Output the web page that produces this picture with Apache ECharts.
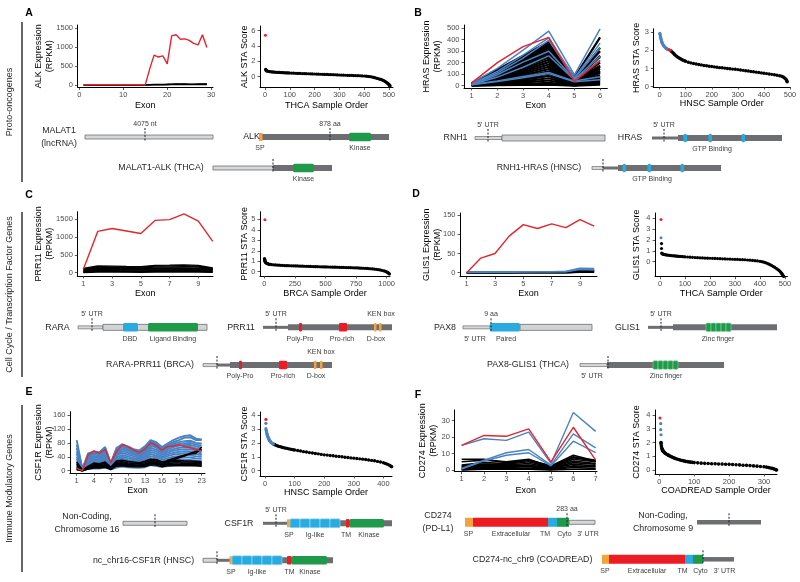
<!DOCTYPE html>
<html><head><meta charset="utf-8">
<script src="https://cdn.jsdelivr.net/npm/echarts@6/dist/echarts.min.js"></script>
<style>html,body{margin:0;padding:0;background:#fff}#c{width:800px;height:582px}</style>
</head><body><div id="c"></div>
<script>
const FONT = '"Liberation Sans", Arial, Helvetica, sans-serif';
const RED = '#e8242b', BLUE = '#4a83c4', BLACK = '#000000';

/* ---------- Panel A : ALK ---------- */
const alkExon = [1,2,3,4,5,6,7,8,9,10,11,12,13,14,15,16,17,18,19,20,21,22,23,24,25,26,27,28,29];
const alkRed = [5,5,5,5,5,5,5,5,5,5,5,5,5,5,5,420,790,740,770,560,1300,1330,1210,1220,1180,1100,1060,1330,990];
const alkBlack = [
 [2,2,2,2,3,3,3,2,3,3,3,3,3,3,4,10,15,18,16,20,25,28,26,27,25,24,26,28,27],
 [1,1,1,1,1,1,1,1,1,1,1,1,1,1,2,6,10,12,10,14,18,20,19,20,18,18,19,20,20],
 [0,0,0,0,0,0,0,0,0,0,0,0,0,0,1,3,5,6,5,7,9,10,9,10,9,9,10,10,10]
];
const alkStaRed = [[2,5.4]];
const alkStaBlue = [];
const alkStaBlack = [[3,0.96],[4,0.88],[5,0.82],[7,0.75],[10,0.71],[15,0.68],[20,0.65],[25,0.635],[30,0.62],[35,0.605],[40,0.59],[45,0.58],[50,0.57],[55,0.56],[60,0.55],[65,0.54],[70,0.53],[75,0.52],[80,0.51],[85,0.505],[90,0.5],[95,0.49],[100,0.48],[108,0.47],[116,0.455],[125,0.44],[133,0.43],[141,0.42],[150,0.41],[158,0.4],[166,0.39],[175,0.38],[183,0.37],[191,0.36],[200,0.35],[208,0.34],[216,0.33],[225,0.32],[233,0.31],[241,0.3],[250,0.29],[258,0.28],[266,0.27],[275,0.26],[283,0.25],[291,0.235],[300,0.22],[308,0.21],[316,0.2],[325,0.19],[333,0.18],[341,0.17],[350,0.16],[358,0.15],[366,0.14],[375,0.13],[383,0.12],[391,0.105],[400,0.09],[408,0.065],[415,0.04],[421,0.02],[427,-0.01],[432,-0.04],[437,-0.08],[442,-0.12],[447,-0.17],[452,-0.22],[457,-0.27],[462,-0.31],[467,-0.36],[472,-0.41],[476,-0.47],[480,-0.53],[483,-0.6],[486,-0.66],[489,-0.73],[492,-0.8],[495,-0.88],[497,-0.94],[499,-1.0],[501,-1.06],[502,-1.1],[503,-1.15],[504,-1.2]];

/* ---------- Panel B : HRAS ---------- */
const hrasExon = [1,2,3,4,5,6];
const hrasRed = [25,200,340,420,38,218];
const hrasBlue = [
 [25,150,310,475,95,495],[15,125,265,415,70,370],[12,110,240,395,62,330],
 [10,95,205,300,55,255],[8,75,160,260,50,220],[10,42,80,115,40,78],[8,36,70,105,35,52]
];
const hrasBlack = [
 [22,140,260,380,70,420],[20,130,245,360,60,300],[19,125,235,345,55,250],[18,118,222,330,50,330],
 [17,110,210,310,48,200],[16,104,198,295,45,260],[15,98,185,280,42,175],[14,90,172,262,40,150],
 [13,84,160,245,36,165],[12,76,145,225,33,130],[11,70,132,205,30,110],[10,62,118,185,27,120],
 [9,55,104,165,24,90],[8,48,90,145,20,80],[7,40,76,125,17,70],[6,33,62,105,14,60],
 [5,26,50,85,10,50],[4,20,38,65,7,40],[3,14,26,45,4,30],[2,8,15,25,2,20],[1,4,7,10,1,10]
];
const hrasStaBlue = [[1,2.95],[2,2.88],[3,2.8],[4,2.73],[5,2.66],[6,2.6],[7,2.54],[8,2.49],[9,2.45],[10,2.41],[12,2.35],[14,2.3],[16,2.26],[18,2.22],[20,2.19],[22,2.16],[24,2.13],[26,2.11],[28,2.09],[30,2.07],[32,2.06],[34,2.05]];
const hrasStaRed = [[37,2.03],[40,2.01]];
const hrasStaBlack = [[44,1.97],[48,1.92],[52,1.86],[56,1.8],[60,1.74],[65,1.68],[70,1.63],[75,1.58],[80,1.54],[85,1.5],[90,1.46],[95,1.43],[100,1.4],[110,1.35],[120,1.31],[130,1.28],[140,1.25],[150,1.22],[160,1.2],[170,1.17],[180,1.15],[190,1.13],[200,1.11],[210,1.09],[220,1.07],[230,1.05],[240,1.04],[250,1.02],[260,1.0],[270,0.99],[280,0.97],[290,0.96],[300,0.94],[310,0.92],[320,0.9],[330,0.88],[340,0.86],[350,0.84],[360,0.82],[370,0.8],[380,0.78],[390,0.76],[400,0.74],[410,0.72],[420,0.7],[430,0.68],[440,0.66],[450,0.63],[460,0.6],[468,0.57],[474,0.53],[479,0.48],[483,0.43],[486,0.37],[488,0.31],[489,0.27]];

/* ---------- Panel C : PRR11 ---------- */
const prrExon = [1,2,3,4,5,6,7,8,9,10];
const prrRed = [100,1160,1240,1170,1100,1470,1490,1650,1450,880];
const prrBlack = [
 [120,190,185,175,170,205,210,220,205,135],[110,170,165,160,155,185,190,195,185,120],
 [100,150,145,140,135,160,165,170,160,110],[95,125,125,120,118,130,132,135,130,100],
 [90,110,112,110,108,115,118,120,115,90],[70,95,95,92,90,98,100,102,98,78],
 [50,75,75,72,70,78,80,82,78,60],[30,55,55,52,50,56,58,60,56,42],
 [15,35,35,33,32,36,37,38,36,26],[5,15,15,14,13,15,16,16,15,10]
];
const prrStaRed = [[5,4.95]];
const prrStaBlue = [];
const prrStaBlack = [[2,1.25],[3,1.18],[4,1.12],[5,1.06],[6,1.0],[8,0.95],[10,0.9],[13,0.86],[16,0.83],[20,0.8],[25,0.77],[30,0.75],[36,0.73],[42,0.71],[50,0.7],[60,0.68],[75,0.66],[90,0.65],[105,0.63],[120,0.62],[135,0.61],[150,0.6],[165,0.59],[180,0.58],[195,0.575],[210,0.57],[225,0.565],[240,0.56],[255,0.555],[270,0.55],[285,0.54],[300,0.535],[315,0.53],[330,0.52],[345,0.515],[360,0.51],[375,0.5],[390,0.495],[405,0.49],[420,0.485],[435,0.48],[450,0.475],[465,0.47],[480,0.465],[495,0.46],[510,0.455],[525,0.45],[540,0.445],[555,0.44],[570,0.435],[585,0.43],[600,0.425],[615,0.42],[630,0.41],[645,0.405],[660,0.4],[675,0.395],[690,0.39],[705,0.385],[720,0.38],[735,0.375],[750,0.37],[765,0.36],[780,0.35],[795,0.34],[810,0.33],[825,0.32],[840,0.31],[855,0.3],[870,0.28],[885,0.27],[900,0.25],[915,0.23],[930,0.2],[945,0.17],[960,0.13],[975,0.09],[985,0.05],[995,0.01],[1003,-0.04],[1010,-0.09],[1015,-0.13],[1019,-0.18],[1022,-0.22]];

/* ---------- Panel D : GLIS1 ---------- */
const glisExon = [1,2,3,4,5,6,7,8,9,10];
const glisRed = [0,38,50,95,125,115,127,117,138,121];
const glisBlue = [[1,2,2,2,3,3,3,4,12,11],[1,2,2,2,2,3,3,3,10,9],[0,1,1,1,2,2,2,2,8,7]];
const glisBlack = [[1,1,1,1,1,2,2,2,6,6],[0,1,1,1,1,1,1,1,5,5],[0,0,0,0,1,1,1,1,4,4],[0,0,0,0,0,0,0,0,2,2],[0,0,0,0,0,0,0,0,1,1]];
const glisStaRed = [[4,3.9]];
const glisStaBlue = [[4,2.22]];
const glisStaBlack = [[6,1.67],[6,1.22],[7,0.8],[8,0.76],[10,0.72],[13,0.69],[16,0.67],[20,0.65],[25,0.63],[30,0.61],[35,0.595],[40,0.58],[45,0.565],[50,0.55],[55,0.54],[60,0.53],[65,0.52],[70,0.51],[75,0.5],[80,0.49],[85,0.48],[90,0.47],[95,0.46],[100,0.45],[110,0.435],[120,0.42],[130,0.405],[140,0.39],[150,0.375],[160,0.36],[170,0.35],[180,0.34],[190,0.33],[200,0.32],[210,0.31],[220,0.3],[230,0.29],[240,0.28],[250,0.27],[260,0.26],[270,0.25],[280,0.24],[290,0.23],[300,0.22],[310,0.21],[320,0.2],[330,0.19],[340,0.18],[350,0.16],[360,0.14],[370,0.12],[380,0.1],[390,0.07],[400,0.04],[408,0.0],[415,-0.04],[422,-0.09],[428,-0.14],[434,-0.2],[440,-0.27],[446,-0.34],[452,-0.42],[458,-0.5],[463,-0.58],[468,-0.66],[473,-0.75],[477,-0.82],[481,-0.92],[484,-1.0],[487,-1.08],[489,-1.15],[491,-1.23],[493,-1.3],[495,-1.36]];

/* ---------- Panel E : CSF1R ---------- */
const csfExon = [1,2,3,4,5,6,7,8,9,10,11,12,13,14,15,16,17,18,19,20,21,22,23];
const csfRed = [7,0,45,57,50,61,23,54,75,69,59,52,62,80,73,59,69,71,75,69,66,61,57];
const csfBlue = [
 [88,5,50,55,53,68,22,65,76,70,62,58,70,88,82,68,78,88,95,100,102,92,90],
 [75,4,45,52,50,65,20,62,73,67,60,55,67,85,78,65,74,82,88,95,96,88,88],
 [65,4,42,50,48,62,19,60,70,64,57,52,64,82,75,62,70,78,82,85,86,80,78],
 [55,3,38,46,44,58,18,56,66,60,54,49,60,77,70,58,66,73,77,79,80,75,72],
 [48,3,35,42,40,54,16,52,61,56,50,46,56,72,66,54,62,68,72,74,74,70,66],
 [40,3,31,38,36,49,15,47,56,51,46,42,51,66,60,50,57,62,66,68,68,64,60],
 [34,2,28,34,32,44,13,43,51,46,42,38,46,60,55,45,52,57,60,62,62,58,55],
 [28,2,24,30,28,39,12,38,45,41,37,34,41,54,49,40,47,51,54,56,56,52,50],
 [23,2,21,26,24,34,10,33,40,36,33,30,36,48,43,36,42,46,48,50,50,47,45],
 [18,1,17,22,20,29,9,29,35,31,28,26,31,42,38,31,36,40,42,44,44,41,40],
 [14,1,14,18,17,24,7,24,29,26,24,22,26,36,32,27,31,34,36,38,38,35,34],
 [10,1,11,14,13,19,6,19,24,21,19,18,21,30,26,22,25,28,30,31,31,29,28],
 [7,0,8,10,9,14,5,14,18,16,14,13,16,23,20,17,19,21,23,24,24,22,21],
 [4,0,5,6,6,9,3,9,12,10,9,8,10,16,13,11,13,14,15,16,16,15,14]
];
const csfBlack = [
 [25,2,12,22,20,25,10,28,30,27,25,23,27,33,32,25,28,30,30,28,28,27,25],
 [20,1,10,18,17,21,8,24,26,23,21,20,23,29,28,21,24,26,26,25,25,24,22],
 [15,1,8,14,14,17,6,20,22,19,17,16,19,25,24,17,20,22,22,21,21,20,19],
 [10,1,6,11,11,13,5,16,18,15,13,13,15,21,20,14,17,18,18,17,17,17,16],
 [6,0,5,8,8,10,4,13,14,12,11,11,12,17,16,11,14,15,15,14,14,14,13],
 [5,1,8,12,12,15,6,18,20,18,16,15,18,24,22,18,30,35,40,45,48,50,68],
 [3,0,6,10,10,12,5,15,18,16,14,14,16,22,20,16,25,30,38,42,50,55,60]
];
const csfStaRed = [[3,3.68]];
const csfStaBlue = [[3,3.4],[3,3.02],[4,2.9],[5,2.8],[6,2.7],[7,2.62],[8,2.55],[9,2.48],[10,2.42],[11,2.37],[12,2.32],[13,2.27],[14,2.23],[15,2.19],[16,2.15],[17,2.12],[18,2.09],[19,2.06],[20,2.04],[22,2.0],[24,1.97],[26,1.94],[28,1.92]];
const csfStaBlack = [[30,1.9],[33,1.87],[36,1.84],[40,1.8],[45,1.76],[50,1.73],[55,1.7],[60,1.67],[65,1.64],[70,1.62],[75,1.6],[80,1.57],[85,1.55],[90,1.53],[95,1.51],[100,1.49],[110,1.45],[120,1.41],[130,1.37],[140,1.34],[150,1.3],[160,1.27],[170,1.24],[180,1.21],[190,1.17],[200,1.14],[210,1.12],[220,1.09],[230,1.07],[240,1.04],[250,1.02],[260,1.0],[270,0.97],[280,0.95],[290,0.92],[300,0.9],[310,0.88],[320,0.85],[330,0.83],[340,0.8],[350,0.77],[360,0.74],[370,0.71],[380,0.67],[390,0.62],[400,0.57],[407,0.52],[413,0.47],[418,0.42],[422,0.37],[425,0.33],[428,0.28]];

/* ---------- Panel F : CD274 ---------- */
const cdExon = [1,2,3,4,5,6,7];
const cdRed = [15,21,20.5,25,5,26,6];
const cdBlue = [[15,19,18,23,4,35,23.5],[1,6,10.5,12.5,3,22,13.5],[0.5,5.5,9,10.5,2.5,17.5,10.5]];
const cdBlack = [
 [6.5,6.5,4.5,6,2.5,9,5.5],[5,6,5,6.5,2,8,5],[3,4.5,4,6,2,7.5,6],[2.5,3.5,3.5,5,1.5,6.5,5],
 [2,3,3,4,1.5,5.5,4],[1.5,2.5,2.5,3,1,4.5,3.5],[1,2,2,2.5,1,3.5,2.5],[0.5,1.5,1.5,2,0.5,2.5,2],
 [0.2,1,1,1,0.3,1.5,1],[0,0.5,0.5,0.5,0,0.5,0.5]
];
const cdStaRed = [[2,3.78]];
const cdStaBlue = [[4,3.37],[4,2.93],[5,2.56]];
const cdStaBlack = [[5,2.0],[5,1.9],[6,1.75],[7,1.6],[8,1.52],[9,1.46],[10,1.41],[11,1.37],[12,1.34],[14,1.29],[16,1.24],[18,1.2],[21,1.15],[24,1.1],[27,1.06],[30,1.02],[34,0.97],[38,0.93],[42,0.88],[46,0.84],[50,0.8],[55,0.76],[60,0.72],[65,0.69],[70,0.66],[75,0.63],[80,0.61],[85,0.59],[90,0.57],[95,0.555],[100,0.54],[110,0.52],[120,0.5],[130,0.485],[140,0.47],[150,0.46],[160,0.45],[170,0.44],[180,0.43],[190,0.42],[200,0.41],[210,0.4],[220,0.38],[230,0.37],[240,0.35],[250,0.34],[260,0.32],[270,0.3],[280,0.28],[290,0.26],[300,0.24],[307,0.21],[313,0.18],[318,0.15],[323,0.12],[327,0.09],[331,0.05],[334,0.02],[336,0.0]];

/* ---------- Tick labels ---------- */
const alkExprXTicks = [0,10,20,30], alkExprYTicks = [0,500,1000,1500];
const alkStaXTicks = [0,100,200,300,400,500], alkStaYTicks = [0,2,4,6];
const hrasExprXTicks = [1,2,3,4,5,6], hrasExprYTicks = [0,100,200,300,400,500];
const hrasStaXTicks = [0,100,200,300,400,500], hrasStaYTicks = [0,1,2,3];
const prrExprXTicks = [1,3,5,7,9], prrExprYTicks = [0,500,1000,1500];
const prrStaXTicks = [0,250,500,750,1000], prrStaYTicks = [0,1,2,3,4,5];
const glisExprXTicks = [1,3,5,7,9], glisExprYTicks = [0,50,100,150];
const glisStaXTicks = [0,100,200,300,400,500], glisStaYTicks = [0,1,2,3,4];
const csfExprXTicks = [1,4,7,10,13,16,19,23], csfExprYTicks = [0,40,80,120,160];
const csfStaXTicks = [0,100,200,300,400], csfStaYTicks = [0,1,2,3,4];
const cdExprXTicks = [1,2,3,4,5,6,7], cdExprYTicks = [0,10,20,30];
const cdStaXTicks = [0,100,200,300], cdStaYTicks = [0,1,2,3,4];

/* ---------- Domain diagrams (panel-local units, row 1 = genes, row 3 = fusion) ---------- */
const diagASegs = [[85,213,1,'lnc'],[260,389,1,'dark'],[259,262.5,1,'sp'],[349,371,1,'green'],[213,273,3,'lnc'],[273,332,3,'dark'],[293,314,3,'green']];
const diagAMarks = [[145,1],[330,1],[273,3]];
const diagALabels = [[59,1,'MALAT1\n(lncRNA)','name'],[251.5,1,'ALK','name'],[161,3,'MALAT1-ALK (THCA)','name'],[145,1,'4075 nt','above'],[330,1,'878 aa','above'],[260,1,'SP','below'],[360,1,'Kinase','below'],[303.5,3,'Kinase','below']];

const diagBSegs = [[75,102,1,'utrL'],[102,205,1,'light'],[252,278,1,'utrD'],[278,382,1,'dark'],[283.5,287,1,'gtp'],[308.5,312,1,'gtp'],[341.5,345,1,'gtp'],[192,203,3,'utrL'],[203,218,3,'utrD'],[218,321,3,'dark'],[222.5,226,3,'gtp'],[247.5,251,3,'gtp'],[280.5,284,3,'gtp']];
const diagBMarks = [[88,1],[264,1],[203,3]];
const diagBLabels = [[55.5,1,'RNH1','name'],[230,1,'HRAS','name'],[139,3,'RNH1-HRAS (HNSC)','name'],[88,1,"5' UTR",'above'],[264,1,"5' UTR",'above'],[312,1,'GTP Binding','below'],[252,3,'GTP Binding','below']];

const diagCSegs = [[78,103,1,'utrL'],[103,207,1,'light'],[123,138,1,'blue'],[148,198,1,'green'],[263,288,1,'utrD'],[288,392,1,'dark'],[299,302,1,'red'],[339,347,1,'red'],[374,376.5,1,'orange'],[379,381.5,1,'orange'],[203,217,3,'utrL'],[217,230,3,'utrD'],[230,332,3,'dark'],[239,242,3,'red'],[279,287,3,'red'],[314,316.5,3,'orange'],[320,322.5,3,'orange']];
const diagCMarks = [[92,1],[276,1],[217,3]];
const diagCLabels = [[57.5,1,'RARA','name'],[241,1,'PRR11','name'],[150,3,'RARA-PRR11 (BRCA)','name'],[92,1,"5' UTR",'above'],[276,1,"5' UTR",'above'],[381,1,'KEN box','above'],[130,1,'DBD','below'],[173,1,'Ligand Binding','below'],[300,1,'Poly-Pro','below'],[342,1,'Pro-rich','below'],[376,1,'D-box','below'],[321,3,'KEN box','above'],[240,3,'Poly-Pro','below'],[283,3,'Pro-rich','below'],[316,3,'D-box','below']];

const diagDSegs = [[63,90,1,'utrL'],[120,192,1,'light'],[90,120,1,'blue'],[248,273,1,'utrD'],[273,377,1,'dark'],[306,331,1,'zinc'],[180,207,3,'utrL'],[207,324,3,'dark'],[253,278,3,'zinc']];
const diagDMarks = [[91,1],[261,1],[208,3]];
const diagDLabels = [[45,1,'PAX8','name'],[227.5,1,'GLIS1','name'],[128,3,'PAX8-GLIS1 (THCA)','name'],[91,1,'9 aa','above'],[261,1,"5' UTR",'above'],[75,1,"5' UTR",'below'],[106,1,'Paired','below'],[318,1,'Zinc finger','below'],[192,3,"5' UTR",'below'],[266,3,'Zinc finger','below']];

const diagESegs = [[123,187,1,'lnc'],[263,288,1,'utrD'],[288,392,1,'dark'],[287,290,1,'sp'],[290,340,1,'ig5'],[346,349.5,1,'red'],[349.5,384,1,'green'],[203,217,3,'lnc'],[217,230,3,'utrD'],[230,333,3,'dark'],[229.5,232,3,'sp'],[232,282,3,'ig5'],[287,291.5,3,'red'],[291.5,327,3,'green']];
const diagEMarks = [[155,1],[276,1],[217,3]];
const diagELabels = [[87,1,'Non-Coding,\nChromosome 16','name'],[239,1,'CSF1R','name'],[143.5,3,'nc_chr16-CSF1R (HNSC)','name'],[276,1,"5' UTR",'above'],[289,1,'SP','below'],[315,1,'Ig-like','below'],[346,1,'TM','below'],[369,1,'Kinase','below'],[231,3,'SP','below'],[257,3,'Ig-like','below'],[289.5,3,'TM','below'],[310,3,'Kinase','below']];

const diagFSegs = [[65,73,1,'spBig'],[73,148,1,'redBig'],[148,157,1,'blueBig'],[157,169,1,'greenBig'],[169,195,1,'lnc'],[297,361,1,'ncDark'],[202,209,3,'spBig'],[209,285,3,'redBig'],[285,293,3,'blueBig'],[293,303,3,'greenBig'],[303,334,3,'ncDark']];
const diagFMarks = [[167,1],[329,1],[303,3]];
const diagFLabels = [[38,1,'CD274\n(PD-L1)','name'],[263,1,'Non-Coding,\nChromosome 9','name'],[132.5,3,'CD274-nc_chr9 (COADREAD)','name'],[167,1,'283 aa','above'],[68.5,1,'SP','below'],[111,1,'Extracellular','below'],[145,1,'TM','below'],[164.5,1,'Cyto','below'],[188,1,"3' UTR",'below'],[205,3,'SP','below'],[247,3,'Extracellular','below'],[282.5,3,'TM','below'],[300.5,3,'Cyto','below'],[324.5,3,"3' UTR",'below']];

/* ---------- Layout ---------- */
const charts = [
 {g:[77.5,25,135.5,62.5], x:[-0.4,30.4], y:[-66,1587], xt:alkExprXTicks, yt:alkExprYTicks, xn:'Exon', yn:'ALK Expression\n(RPKM)', xg:13, yg:22},
 {g:[260,26,133,61.5], x:[-20,516], y:[-1.41,6.61], xt:alkStaXTicks, yt:alkStaYTicks, xn:'THCA Sample Order', yn:'ALK STA Score', xg:13, yg:9.5},
 {g:[464,25,143.3,63], x:[0.7,6.28], y:[-20,528], xt:hrasExprXTicks, yt:hrasExprYTicks, xn:'Exon', yn:'HRAS Expression\n(RPKM)', xg:12.5, yg:20.5},
 {g:[653.3,28.7,137,58.3], x:[-24,501], y:[-0.02,3.2], xt:hrasStaXTicks, yt:hrasStaYTicks, xn:'HNSC Sample Order', yn:'HRAS STA Score', xg:11.5, yg:11},
 {g:[77.3,211.7,135.7,64.3], x:[0.58,10.02], y:[-93,1713], xt:prrExprXTicks, yt:prrExprYTicks, xn:'Exon', yn:'PRR11 Expression\n(RPKM)', xg:12.5, yg:21.8},
 {g:[260,211.7,130,64.3], x:[-35,1027], y:[-0.41,5.73], xt:prrStaXTicks, yt:prrStaYTicks, xn:'BRCA Sample Order', yn:'PRR11 STA Score', xg:12.5, yg:9.5},
 {g:[460,213,137,63.7], x:[0.53,10.2], y:[-10.4,155.2], xt:glisExprXTicks, yt:glisExprYTicks, xn:'Exon', yn:'GLIS1 Expression\n(RPKM)', xg:11.5, yg:17.2},
 {g:[655,213,132.5,63.7], x:[-20,510], y:[-1.38,4.49], xt:glisStaXTicks, yt:glisStaYTicks, xn:'THCA Sample Order', yn:'GLIS1 STA Score', xg:11.5, yg:12.8},
 {g:[70,411.7,135,61.6], x:[-0.18,23.58], y:[-7.5,169.5], xt:csfExprXTicks, yt:csfExprYTicks, xn:'Exon', yn:'CSF1R Expression\n(RPKM)', xg:12.2, yg:14.5},
 {g:[260,412,132,64], x:[-17,429], y:[-0.38,4.215], xt:csfStaXTicks, yt:csfStaYTicks, xn:'HNSC Sample Order', yn:'CSF1R STA Score', xg:11.5, yg:9.5},
 {g:[454.3,410,142.7,61.7], x:[0.67,7.06], y:[-1.03,36.5], xt:cdExprXTicks, yt:cdExprYTicks, xn:'Exon', yn:'CD274 Expression\n(RPKM)', xg:13.5, yg:15.5},
 {g:[655,410,122,64], x:[-12.3,337.3], y:[-0.29,4.36], xt:cdStaXTicks, yt:cdStaYTicks, xn:'COADREAD Sample Order', yn:'CD274 STA Score', xg:11.5, yg:12.8}
];
const diagGrids = [[0,121.5,400,62],[400,123,400,60],[0,308.5,400,75.4],[400,308.5,400,75.4],[0,504.8,400,74],[400,503.8,400,74]];

const plain = v => String(v);
const grids = [], xAxes = [], yAxes = [], series = [];
charts.forEach((c,i) => {
  grids.push({left:c.g[0], top:c.g[1], width:c.g[2], height:c.g[3], containLabel:false, outerBoundsMode:'none'});
  const common = {gridIndex:i, type:'value', splitLine:{show:false}, nameLocation:'middle', nameMoveOverlap:false,
    axisLine:{show:true, onZero:false, lineStyle:{color:'#000', width:1}}};
  xAxes.push(Object.assign({}, common, {min:c.x[0], max:c.x[1], name:c.xn, nameGap:c.xg,
    nameTextStyle:{fontSize:9, color:'#000', fontFamily:FONT, lineHeight:11},
    axisTick:{show:true, length:2.5, customValues:c.xt, lineStyle:{color:'#333', width:0.8}},
    axisLabel:{customValues:c.xt, formatter:plain, fontSize:7.5, color:'#4d4d4d', margin:3.5, fontFamily:FONT}}));
  yAxes.push(Object.assign({}, common, {min:c.y[0], max:c.y[1], name:c.yn, nameGap:c.yg, nameRotate:90,
    nameTextStyle:{fontSize:9, color:'#000', fontFamily:FONT, lineHeight:11},
    axisTick:{show:true, length:2.5, customValues:c.yt, lineStyle:{color:'#333', width:0.8}},
    axisLabel:{customValues:c.yt, formatter:plain, fontSize:7.5, color:'#4d4d4d', margin:4.5, fontFamily:FONT}}));
});
diagGrids.forEach((d,k) => {
  const gi = charts.length + k;
  grids.push({left:d[0], top:d[1], width:d[2], height:d[3], containLabel:false, outerBoundsMode:'none'});
  xAxes.push({gridIndex:gi, type:'value', min:0, max:400, show:false});
  yAxes.push({gridIndex:gi, type:'value', min:0, max:4, inverse:true, show:false});
});

function lineSet(idx, exons, rows, color, width) {
  rows.forEach(r => series.push({type:'line', xAxisIndex:idx, yAxisIndex:idx, data:exons.map((e,j)=>[e,r[j]]),
    showSymbol:false, symbol:'none', silent:true, lineStyle:{color:color, width:width}, itemStyle:{color:color}}));
}
function scatterSet(idx, pts, color, size) {
  if (!pts.length) return;
  series.push({type:'scatter', xAxisIndex:idx, yAxisIndex:idx, data:pts, symbolSize:size, silent:true,
    itemStyle:{color:color, opacity:1}});
}
// A
lineSet(0, alkExon, alkBlack, BLACK, 1.3); lineSet(0, alkExon, [alkRed], RED, 1.4);
scatterSet(1, alkStaBlack, BLACK, 3.2); scatterSet(1, alkStaBlue, BLUE, 3); scatterSet(1, alkStaRed, RED, 3);
// B
lineSet(2, hrasExon, hrasBlack, BLACK, 2.2); lineSet(2, hrasExon, hrasBlue, BLUE, 1.5); lineSet(2, hrasExon, [hrasRed], RED, 1.5);
scatterSet(3, hrasStaBlack, BLACK, 3.4); scatterSet(3, hrasStaBlue, BLUE, 3.2); scatterSet(3, hrasStaRed, RED, 3.2);
// C
lineSet(4, prrExon, prrBlack, BLACK, 1.3); lineSet(4, prrExon, [prrRed], RED, 1.4);
scatterSet(5, prrStaBlack, BLACK, 3.2); scatterSet(5, prrStaRed, RED, 3);
// D
lineSet(6, glisExon, glisBlack, BLACK, 1.4); lineSet(6, glisExon, glisBlue, BLUE, 1.3); lineSet(6, glisExon, [glisRed], RED, 1.4);
scatterSet(7, glisStaBlack, BLACK, 3.2); scatterSet(7, glisStaBlue, BLUE, 3); scatterSet(7, glisStaRed, RED, 3);
// E
lineSet(8, csfExon, csfBlue, BLUE, 1.9); lineSet(8, csfExon, csfBlack, BLACK, 1.5); lineSet(8, csfExon, [csfRed], RED, 1.4);
scatterSet(9, csfStaBlack, BLACK, 3.4); scatterSet(9, csfStaBlue, BLUE, 3.2); scatterSet(9, csfStaRed, RED, 3.2);
// F
lineSet(10, cdExon, cdBlack, BLACK, 1.6); lineSet(10, cdExon, cdBlue, BLUE, 1.4); lineSet(10, cdExon, [cdRed], RED, 1.4);
scatterSet(11, cdStaBlack, BLACK, 3.6); scatterSet(11, cdStaBlue, BLUE, 3.2); scatterSet(11, cdStaRed, RED, 3.2);

/* ---------- Diagram rendering ---------- */
const GREY = '#6d6e71', LIGHT = '#d6d7d8';
const SEG_STYLE = {
  lnc:{h:4, fill:LIGHT, stroke:GREY, lw:0.8}, utrL:{h:3, fill:LIGHT, stroke:GREY, lw:0.7},
  light:{h:6, fill:'#d1d3d4', stroke:GREY, lw:0.8}, utrD:{h:3, fill:GREY}, dark:{h:6, fill:GREY},
  ncDark:{h:4.5, fill:GREY}, sp:{h:8, fill:'#f6a23a'}, green:{h:8.5, fill:'#1e9a4a', r:1.5},
  blue:{h:8.5, fill:'#29abe2', r:1.5}, gtp:{h:8.5, fill:'#29abe2', r:1.5}, red:{h:8.5, fill:'#ed1c24', r:1},
  orange:{h:8.5, fill:'#f6a23a', r:1}, zinc:{h:8.5, fill:'#1e9a4a', n:5, sep:'#8fd19e'},
  ig5:{h:9, fill:'#29abe2', n:5, sep:'#a9dcf4'}, spBig:{h:9, fill:'#f6a23a'}, redBig:{h:9, fill:'#ed1c24'},
  blueBig:{h:9, fill:'#29abe2'}, greenBig:{h:9, fill:'#1e9a4a'}
};
function segRender(segs) {
  return function(params, api) {
    const s = segs[params.dataIndex], st = SEG_STYLE[s[3]];
    const p0 = api.coord([s[0], s[2]]), p1 = api.coord([s[1], s[2]]);
    const x = p0[0], w = p1[0] - p0[0], y = p0[1] - st.h / 2;
    if (st.n) {
      const cw = w / st.n, children = [];
      for (let i = 0; i < st.n; i++) children.push({type:'rect', shape:{x:x + i*cw, y:y, width:cw, height:st.h, r:1}, style:{fill:st.fill, stroke:st.sep, lineWidth:0.6}});
      return {type:'group', children:children};
    }
    return {type:'rect', shape:{x:x, y:y, width:w, height:st.h, r:st.r || 0}, style:{fill:st.fill, stroke:st.stroke || null, lineWidth:st.lw || 0}};
  };
}
function markRender(marks) {
  return function(params, api) {
    const m = marks[params.dataIndex], p = api.coord([m[0], m[1]]);
    return {type:'line', shape:{x1:p[0], y1:p[1]-9, x2:p[0], y2:p[1]+4}, style:{stroke:'#231f20', lineWidth:1, lineDash:[2,1.5]}};
  };
}
function labelRender(labels) {
  return function(params, api) {
    const l = labels[params.dataIndex], p = api.coord([l[0], l[1]]);
    let dy = 0, size = 7, color = '#414042';
    if (l[3] === 'above') dy = -13; else if (l[3] === 'below') dy = 11.5; else { size = 8.8; color = '#231f20'; }
    return {type:'text', x:p[0], y:p[1] + dy, style:{text:l[2], fontSize:size, fontFamily:FONT, fill:color, align:'center', verticalAlign:'middle', lineHeight:12.5}};
  };
}
const diagSets = [[diagASegs,diagAMarks,diagALabels],[diagBSegs,diagBMarks,diagBLabels],[diagCSegs,diagCMarks,diagCLabels],
  [diagDSegs,diagDMarks,diagDLabels],[diagESegs,diagEMarks,diagELabels],[diagFSegs,diagFMarks,diagFLabels]];
diagSets.forEach((d,k) => {
  const gi = charts.length + k;
  series.push({type:'custom', xAxisIndex:gi, yAxisIndex:gi, clip:false, silent:true, renderItem:segRender(d[0]),
    data:d[0].map(s=>[s[0], s[1], s[2]]), encode:{x:[0,1], y:2}});
  series.push({type:'custom', xAxisIndex:gi, yAxisIndex:gi, clip:false, silent:true, renderItem:markRender(d[1]),
    data:d[1].map(m=>[m[0], m[1]]), encode:{x:0, y:1}});
  series.push({type:'custom', xAxisIndex:gi, yAxisIndex:gi, clip:false, silent:true, renderItem:labelRender(d[2]),
    data:d[2].map(l=>[l[0], l[1]]), encode:{x:0, y:1}});
});

/* ---------- Decorations ---------- */
const sectionNames = ['Proto-oncogenes','Cell Cycle / Transcription Factor Genes','Immune Modulatory Genes'];
const sectionSpans = [[22,182],[212,377],[405,572]];
const panelLetters = ['A','B','C','D','E','F'];
const letterPos = [[29,13],[418,13],[29,195],[416,194],[29,392],[418,395]];
const graphic = [];
sectionSpans.forEach((s,i) => {
  graphic.push({type:'line', shape:{x1:22, y1:s[0], x2:22, y2:s[1]}, style:{stroke:'#000', lineWidth:1.2}, silent:true});
  graphic.push({type:'text', x:9.5, y:(s[0]+s[1])/2, rotation:Math.PI/2, silent:true,
    style:{text:sectionNames[i], fontSize:9, fontFamily:FONT, fill:'#231f20', align:'center', verticalAlign:'middle'}});
});
panelLetters.forEach((L,i) => graphic.push({type:'text', x:letterPos[i][0], y:letterPos[i][1], silent:true,
  style:{text:L, fontSize:10.5, fontWeight:'bold', fontFamily:FONT, fill:'#000', align:'center', verticalAlign:'middle'}}));

const chart = echarts.init(document.getElementById('c'), null, {renderer:'canvas', width:800, height:582});
chart.setOption({
  animation:false, backgroundColor:'#ffffff', textStyle:{fontFamily:FONT},
  grid:grids, xAxis:xAxes, yAxis:yAxes, series:series, graphic:graphic
});
</script></body></html>
